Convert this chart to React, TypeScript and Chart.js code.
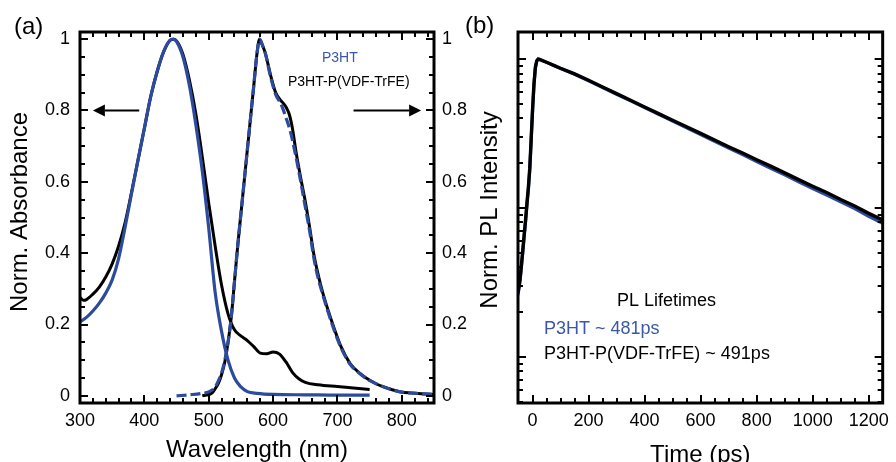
import React, { useEffect, useRef } from "react";
import { Chart, registerables } from "chart.js";

Chart.register(...registerables);

const FONT = "'Liberation Sans', Arial, Helvetica, sans-serif";
const BLUE = "#2d4b9c";
const BLUE_TEXT = "#3b58a8";
const BLACK = "#000000";

// ---------- Panel (a): absorbance (left axis) and PL (right axis) ----------
const absWlP3HT = [300, 310, 320, 330, 340, 350, 360, 370, 380, 390, 400, 410, 420, 430, 440, 445, 450, 460, 470, 480, 490, 500, 510, 520, 530, 540, 550, 560, 575, 600, 650, 700, 750];
const absP3HT = [0.207, 0.22, 0.238, 0.26, 0.288, 0.325, 0.385, 0.472, 0.567, 0.66, 0.75, 0.84, 0.91, 0.965, 0.997, 1.0, 0.993, 0.95, 0.87, 0.76, 0.63, 0.47, 0.29, 0.18, 0.1, 0.05, 0.025, 0.012, 0.007, 0.004, 0.003, 0.002, 0.002];

const absWlBlend = [300, 305, 310, 320, 330, 340, 350, 360, 370, 380, 390, 400, 410, 420, 430, 440, 445, 450, 460, 470, 480, 490, 500, 510, 520, 530, 540, 550, 560, 570, 580, 590, 600, 610, 620, 630, 640, 650, 670, 700, 725, 750];
const absBlend = [0.276, 0.268, 0.27, 0.285, 0.305, 0.333, 0.37, 0.42, 0.485, 0.57, 0.66, 0.75, 0.84, 0.91, 0.965, 0.997, 1.0, 0.995, 0.957, 0.885, 0.79, 0.67, 0.54, 0.42, 0.31, 0.23, 0.185, 0.168, 0.155, 0.138, 0.12, 0.118, 0.123, 0.117, 0.095, 0.066, 0.048, 0.038, 0.031, 0.026, 0.022, 0.018];

const plWlP3HT = [450, 470, 490, 500, 510, 515, 520, 525, 530, 535, 540, 545, 550, 555, 560, 565, 570, 575, 579, 583, 588, 596, 604, 611, 615, 620, 627, 635, 643, 650, 657, 663, 670, 677, 690, 705, 720, 735, 747, 760, 772, 785, 798, 815, 830, 850];
const plP3HT = [0.0, 0.003, 0.007, 0.011, 0.025, 0.042, 0.065, 0.1, 0.15, 0.22, 0.32, 0.42, 0.51, 0.6, 0.69, 0.78, 0.87, 0.96, 1.0, 0.985, 0.96, 0.895, 0.845, 0.822, 0.806, 0.78, 0.74, 0.675, 0.6, 0.53, 0.46, 0.39, 0.33, 0.285, 0.21, 0.137, 0.088, 0.062, 0.046, 0.034, 0.025, 0.017, 0.011, 0.008, 0.006, 0.004];

const plWlBlend = [490, 505, 510, 515, 520, 525, 530, 535, 540, 545, 550, 555, 560, 565, 570, 575, 579, 583, 588, 596, 604, 611, 616, 620, 625, 630, 636, 643, 650, 657, 663, 670, 677, 690, 705, 720, 735, 747, 760, 772, 785, 798, 815, 830, 850];
const plBlend = [0.0, 0.008, 0.02, 0.035, 0.06, 0.095, 0.15, 0.22, 0.32, 0.42, 0.51, 0.6, 0.69, 0.78, 0.87, 0.96, 1.0, 0.985, 0.96, 0.9, 0.85, 0.83, 0.82, 0.81, 0.79, 0.75, 0.68, 0.61, 0.545, 0.47, 0.4, 0.34, 0.29, 0.215, 0.14, 0.09, 0.063, 0.047, 0.034, 0.025, 0.017, 0.011, 0.008, 0.006, 0.004];

const aXTickLabels = [300, 400, 500, 600, 700, 800];
const aYTickLabels = [0, 0.2, 0.4, 0.6, 0.8, 1];

// ---------- Panel (b): PL decay ----------
const timePs = [-52, -45, -40, -35, -30, -25, -20, -15, -10, -5, 0, 5, 10, 15, 20, 25, 50, 80, 100, 150, 200, 250, 300, 350, 400, 450, 500, 550, 600, 650, 700, 750, 800, 850, 900, 950, 1000, 1050, 1100, 1150, 1200, 1250];
const decayP3HT = [0.026, 0.032, 0.04, 0.05, 0.064, 0.081, 0.105, 0.133, 0.18, 0.285, 0.45, 0.67, 0.87, 0.97, 1.0, 0.994, 0.95, 0.897, 0.863, 0.79, 0.714, 0.645, 0.581, 0.524, 0.472, 0.425, 0.383, 0.345, 0.311, 0.28, 0.253, 0.228, 0.205, 0.185, 0.167, 0.15, 0.135, 0.122, 0.11, 0.099, 0.088, 0.079];
const decayBlend = [0.027, 0.033, 0.041, 0.052, 0.066, 0.083, 0.108, 0.137, 0.185, 0.29, 0.46, 0.68, 0.88, 0.975, 1.0, 0.995, 0.952, 0.9, 0.867, 0.795, 0.72, 0.65, 0.586, 0.529, 0.477, 0.43, 0.388, 0.351, 0.317, 0.286, 0.258, 0.234, 0.211, 0.191, 0.172, 0.155, 0.14, 0.127, 0.114, 0.103, 0.092, 0.083];

const bXTickLabels = [0, 200, 400, 600, 800, 1000, 1200];

const zip = (xs: number[], ys: number[]) => xs.map((x, i) => ({ x, y: ys[i] }));

const range = (a: number, b: number, s: number) => {
  const out: number[] = [];
  for (let v = a; v <= b + 1e-9; v += s) out.push(Math.round(v * 1000) / 1000);
  return out;
};

function drawArrow(ctx: CanvasRenderingContext2D, x0: number, x1: number, y: number) {
  const dir = Math.sign(x1 - x0);
  const head = 12;
  ctx.beginPath();
  ctx.lineWidth = 2;
  ctx.moveTo(x0, y);
  ctx.lineTo(x1 - dir * head, y);
  ctx.stroke();
  ctx.beginPath();
  ctx.moveTo(x1, y);
  ctx.lineTo(x1 - dir * head, y - 6);
  ctx.lineTo(x1 - dir * head, y + 6);
  ctx.closePath();
  ctx.fill();
}

function drawVerticalTitle(ctx: CanvasRenderingContext2D, text: string, x: number, y: number, size: number) {
  ctx.save();
  ctx.translate(x, y);
  ctx.rotate(-Math.PI / 2);
  ctx.font = `${size}px ${FONT}`;
  ctx.fillStyle = "#000";
  ctx.textAlign = "center";
  ctx.textBaseline = "middle";
  ctx.fillText(text, 0, 0);
  ctx.restore();
}

function framePlugin(opts: {
  xMajor: number[]; xMinor: number[]; yMajor: number[]; yMinor: number[];
  extra?: (chart: any) => void;
}) {
  return {
    id: "frameTicks",
    afterDatasetsDraw(chart: any) {
      const { ctx, chartArea } = chart;
      const { left, right, top, bottom } = chartArea;
      const xs = chart.scales.x;
      const ys = chart.scales.y;
      ctx.save();
      ctx.strokeStyle = "#000";
      ctx.fillStyle = "#000";
      ctx.lineWidth = 2;
      ctx.beginPath();
      const xt = (vals: number[], len: number) => {
        for (const v of vals) {
          const p = Math.round(xs.getPixelForValue(v));
          if (p < left + 1 || p > right - 1) continue;
          ctx.moveTo(p, bottom);
          ctx.lineTo(p, bottom - len);
          ctx.moveTo(p, top);
          ctx.lineTo(p, top + len);
        }
      };
      const yt = (vals: number[], len: number) => {
        for (const v of vals) {
          const p = Math.round(ys.getPixelForValue(v));
          if (p < top + 1 || p > bottom - 1) continue;
          ctx.moveTo(left, p);
          ctx.lineTo(left + len, p);
          ctx.moveTo(right, p);
          ctx.lineTo(right - len, p);
        }
      };
      xt(opts.xMajor, 8);
      xt(opts.xMinor, 5);
      yt(opts.yMajor, 8);
      yt(opts.yMinor, 5);
      ctx.stroke();
      ctx.lineWidth = 3;
      ctx.strokeRect(left, top, right - left, bottom - top);
      if (opts.extra) opts.extra(chart);
      ctx.restore();
    },
  };
}

const fmt = (v: any) => String(Math.round(Number(v) * 10) / 10);

export default function App() {
  const refA = useRef<HTMLCanvasElement>(null);
  const refB = useRef<HTMLCanvasElement>(null);

  useEffect(() => {
    const tickFont = { family: FONT, size: 18 };
    const titleFont = { family: FONT, size: 24 };

    const chartA = new Chart(refA.current as HTMLCanvasElement, {
      type: "line",
      data: {
        datasets: [
          { data: zip(plWlP3HT, plP3HT), borderColor: BLUE, borderWidth: 3.2, borderDash: [10, 4], pointRadius: 0, yAxisID: "y2", cubicInterpolationMode: "monotone" },
          { data: zip(absWlP3HT, absP3HT), borderColor: BLUE, borderWidth: 3.2, pointRadius: 0, yAxisID: "y", cubicInterpolationMode: "monotone" },
          { data: zip(plWlBlend, plBlend), borderColor: BLACK, borderWidth: 3, pointRadius: 0, yAxisID: "y2", cubicInterpolationMode: "monotone" },
          { data: zip(absWlBlend, absBlend), borderColor: BLACK, borderWidth: 3, pointRadius: 0, yAxisID: "y", cubicInterpolationMode: "monotone" },
        ] as any,
      },
      options: {
        animation: false,
        responsive: false,
        maintainAspectRatio: false,
        devicePixelRatio: 1,
        layout: { padding: { top: 32, left: 0, right: 0, bottom: 0 } },
        plugins: { legend: { display: false }, tooltip: { enabled: false } },
        scales: {
          x: {
            type: "linear", min: 300, max: 850, position: "bottom",
            grid: { display: false, drawTicks: false }, border: { display: false },
            ticks: { stepSize: 100, includeBounds: false, padding: 7, font: tickFont, color: "#000", maxRotation: 0, autoSkip: false, callback: (v: any) => (aXTickLabels.includes(Number(v)) ? String(v) : "") },
            title: { display: true, text: "Wavelength (nm)", font: titleFont, color: "#000", padding: { top: 0, bottom: -3 } },
            afterFit: (s: any) => { s.height = 59; },
          },
          y: {
            type: "linear", min: -0.02, max: 1.02, position: "left",
            grid: { display: false, drawTicks: false }, border: { display: false },
            ticks: { stepSize: 0.2, includeBounds: false, padding: 10, font: tickFont, color: "#000", callback: (v: any) => (aYTickLabels.includes(Math.round(Number(v) * 10) / 10) ? fmt(v) : "") },
            title: { display: false, text: "Norm. Absorbance" },
            afterFit: (s: any) => { s.width = 80; },
          },
          y2: {
            type: "linear", min: -0.02, max: 1.02, position: "right",
            grid: { display: false, drawTicks: false }, border: { display: false },
            ticks: { stepSize: 0.2, includeBounds: false, padding: 8, font: tickFont, color: "#000", callback: (v: any) => (aYTickLabels.includes(Math.round(Number(v) * 10) / 10) ? fmt(v) : "") },
            afterFit: (s: any) => { s.width = 36; },
          },
        },
      } as any,
      plugins: [
        framePlugin({
          xMajor: range(300, 800, 100),
          xMinor: range(320, 840, 20).filter((v) => v % 100 !== 0),
          yMajor: range(0, 1, 0.2),
          yMinor: range(0.05, 0.95, 0.05).filter((v) => Math.abs(v * 5 - Math.round(v * 5)) > 1e-6),
          extra: (chart: any) => {
            const ctx = chart.ctx as CanvasRenderingContext2D;
            const xs = chart.scales.x;
            const ys = chart.scales.y;
            const yArrow = ys.getPixelForValue(0.8);
            drawArrow(ctx, xs.getPixelForValue(392), xs.getPixelForValue(320), yArrow);
            drawArrow(ctx, xs.getPixelForValue(725), xs.getPixelForValue(830), yArrow);
            ctx.textBaseline = "alphabetic";
            ctx.textAlign = "left";
            ctx.font = `14px ${FONT}`;
            ctx.fillStyle = BLUE_TEXT;
            ctx.fillText("P3HT", 322, 61.5);
            ctx.fillStyle = "#000";
            ctx.fillText("P3HT-P(VDF-TrFE)", 288, 85.5);
            ctx.font = `24px ${FONT}`;
            ctx.fillText("(a)", 14, 34);
            drawVerticalTitle(ctx, "Norm. Absorbance", 20.5, 212, 24);
          },
        }),
      ],
    });

    const logMinor: number[] = [];
    for (const dec of [0.001, 0.01, 0.1]) {
      for (let k = 2; k <= 9; k++) logMinor.push(k * dec);
    }

    const chartB = new Chart(refB.current as HTMLCanvasElement, {
      type: "line",
      data: {
        datasets: [
          { data: zip(timePs, decayBlend), borderColor: BLACK, borderWidth: 3.4, pointRadius: 0, tension: 0 },
          { data: zip(timePs, decayP3HT), borderColor: BLUE, borderWidth: 3.2, pointRadius: 0, tension: 0 },
        ] as any,
      },
      options: {
        animation: false,
        responsive: false,
        maintainAspectRatio: false,
        devicePixelRatio: 1,
        layout: { padding: { top: 32, left: 0, right: 8, bottom: 0 } },
        plugins: { legend: { display: false }, tooltip: { enabled: false } },
        scales: {
          x: {
            type: "linear", min: -52, max: 1250, position: "bottom",
            grid: { display: false, drawTicks: false }, border: { display: false },
            ticks: { stepSize: 200, includeBounds: false, padding: 7, font: tickFont, color: "#000", maxRotation: 0, autoSkip: false, callback: (v: any) => (bXTickLabels.includes(Number(v)) ? String(v) : "") },
            title: { display: true, text: "Time (ps)", font: titleFont, color: "#000", padding: { top: 0, bottom: -8 } },
            afterFit: (s: any) => { s.height = 59; },
          },
          y: {
            type: "logarithmic", min: 0.0049, max: 1.52, position: "left",
            grid: { display: false, drawTicks: false }, border: { display: false },
            ticks: { display: false },
            title: { display: false, text: "Norm. PL Intensity" },
            afterFit: (s: any) => { s.width = 63; },
          },
        },
      } as any,
      plugins: [
        framePlugin({
          xMajor: range(0, 1200, 200),
          xMinor: range(50, 1250, 50).filter((v) => v % 200 !== 0),
          yMajor: [0.01, 0.1, 1],
          yMinor: logMinor,
          extra: (chart: any) => {
            const ctx = chart.ctx as CanvasRenderingContext2D;
            ctx.textBaseline = "alphabetic";
            ctx.textAlign = "left";
            ctx.font = `18px ${FONT}`;
            ctx.fillStyle = "#000";
            ctx.fillText("PL Lifetimes", 162, 306);
            ctx.fillStyle = BLUE_TEXT;
            ctx.fillText("P3HT ~ 481ps", 89, 333.5);
            ctx.fillStyle = "#000";
            ctx.fillText("P3HT-P(VDF-TrFE) ~ 491ps", 89, 359);
            ctx.font = `24px ${FONT}`;
            ctx.fillText("(b)", 10, 33);
            drawVerticalTitle(ctx, "Norm. PL Intensity", 35.5, 210, 24);
          },
        }),
      ],
    });

    return () => {
      chartA.destroy();
      chartB.destroy();
    };
  }, []);

  return (
    <div style={{ position: "fixed", left: 0, top: 0, width: 896, height: 462, background: "#fff", overflow: "hidden" }}>
      <canvas ref={refA} width={470} height={462} style={{ position: "absolute", left: 0, top: 0, width: 470, height: 462 }} />
      <canvas ref={refB} width={441} height={462} style={{ position: "absolute", left: 455, top: 0, width: 441, height: 462 }} />
    </div>
  );
}
